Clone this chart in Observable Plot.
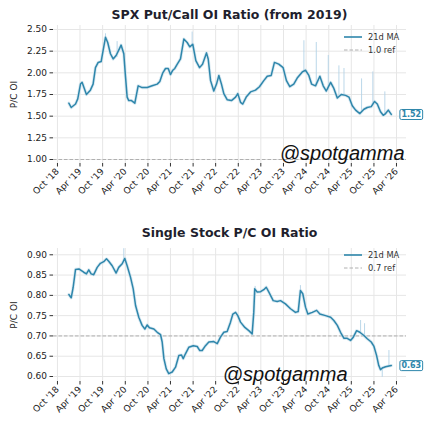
<!DOCTYPE html>
<html><head><meta charset="utf-8">
<script src="https://cdn.jsdelivr.net/npm/d3@7"></script>
<script src="https://cdn.jsdelivr.net/npm/@observablehq/plot@0.6"></script>
<style>
body{margin:0;background:#fff;font-family:"DejaVu Sans",sans-serif;}
.panel{position:relative;width:435px;height:215px;overflow:visible;}
.title{position:absolute;left:53px;width:353px;text-align:center;font-weight:bold;font-size:12.5px;color:#1f1f2e;line-height:14px;}
.lg{position:absolute;left:344px;height:12px;display:flex;align-items:center;font-size:8.3px;color:#333;}
.lg svg{margin-right:6px;}
</style></head>
<body>
<div id="root"></div>
<script>
// ---- Data ----
const tickDates = ["2018-10-01","2019-04-01","2019-10-01","2020-04-01","2020-10-01","2021-04-01","2021-10-01","2022-04-01","2022-10-01","2023-04-01","2023-10-01","2024-04-01","2024-10-01","2025-04-01","2025-10-01","2026-04-01"];
const tickLabels = ["Oct '18","Apr '19","Oct '19","Apr '20","Oct '20","Apr '21","Oct '21","Apr '22","Oct '22","Apr '23","Oct '23","Apr '24","Oct '24","Apr '25","Oct '25","Apr '26"];

const spxYTicks = [1.00,1.25,1.50,1.75,2.00,2.25,2.50];
const ssYTicks = [0.60,0.65,0.70,0.75,0.80,0.85,0.90];

const spxDates = ["2019-01-01","2019-01-20","2019-02-24","2019-03-14","2019-04-05","2019-04-18","2019-05-23","2019-06-24","2019-07-16","2019-08-04","2019-08-26","2019-09-19","2019-10-05","2019-10-24","2019-11-11","2019-12-03","2019-12-25","2020-01-18","2020-02-14","2020-02-27","2020-03-20","2020-04-03","2020-04-16","2020-04-29","2020-05-21","2020-06-17","2020-07-14","2020-08-15","2020-09-25","2020-11-04","2020-12-15","2021-01-05","2021-01-29","2021-02-20","2021-03-14","2021-04-01","2021-04-20","2021-05-06","2021-05-26","2021-06-21","2021-07-18","2021-08-14","2021-09-04","2021-09-28","2021-10-23","2021-11-22","2021-12-16","2022-01-17","2022-01-31","2022-02-19","2022-03-17","2022-04-08","2022-04-27","2022-05-18","2022-06-06","2022-07-03","2022-08-07","2022-09-09","2022-09-27","2022-10-19","2022-11-06","2022-12-04","2023-01-08","2023-02-17","2023-03-21","2023-04-25","2023-05-23","2023-06-24","2023-07-20","2023-08-24","2023-09-28","2023-10-25","2023-11-21","2023-12-23","2024-01-20","2024-03-01","2024-03-27","2024-04-23","2024-05-15","2024-06-16","2024-07-21","2024-08-17","2024-09-11","2024-10-16","2024-11-11","2024-12-09","2025-01-10","2025-02-14","2025-03-13","2025-04-09","2025-05-06","2025-06-09","2025-07-12","2025-08-08","2025-09-09","2025-10-06","2025-10-28","2025-11-23","2025-12-15","2026-01-03","2026-01-25","2026-02-18"];
const spxMA = [1.65,1.60,1.64,1.70,1.87,1.89,1.75,1.80,1.87,2.06,2.12,2.13,2.26,2.41,2.35,2.22,2.16,2.20,2.28,2.32,2.22,1.95,1.72,1.68,1.68,1.65,1.85,1.83,1.83,1.85,1.87,1.90,2.00,2.05,2.05,1.98,2.03,2.05,2.10,2.16,2.39,2.35,2.30,2.33,2.14,2.06,2.10,2.23,2.16,1.91,1.79,1.87,1.97,1.87,1.76,1.69,1.68,1.72,1.76,1.66,1.64,1.72,1.78,1.80,1.84,1.91,1.96,1.97,2.12,2.10,2.06,1.91,1.84,1.87,1.94,2.01,2.03,1.97,1.87,1.85,1.96,1.85,1.79,1.89,1.82,1.71,1.75,1.74,1.72,1.62,1.57,1.53,1.58,1.60,1.61,1.67,1.64,1.55,1.51,1.53,1.57,1.52];
// raw daily spikes: date, low, high
const spxSpikeDates = ["2019-10-24","2020-01-26","2021-09-23","2024-03-14","2024-06-22","2024-09-27","2024-12-22","2025-02-01","2025-06-23","2025-09-22","2025-12-28"];
const spxSpikeLo = [2.36,2.18,2.30,2.00,1.85,1.80,1.72,1.74,1.55,1.62,1.51];
const spxSpikeHi = [2.45,2.36,2.47,2.37,2.35,2.20,2.08,2.05,1.93,2.01,1.78];

const ssDates = ["2019-01-01","2019-01-20","2019-02-05","2019-02-24","2019-03-23","2019-05-01","2019-05-23","2019-06-11","2019-06-30","2019-07-21","2019-08-18","2019-09-13","2019-10-10","2019-11-01","2019-11-19","2019-12-17","2020-01-18","2020-02-08","2020-03-07","2020-03-28","2020-04-16","2020-05-13","2020-06-04","2020-06-23","2020-07-19","2020-08-15","2020-09-06","2020-09-25","2020-10-13","2020-11-18","2020-12-15","2021-01-11","2021-01-24","2021-02-07","2021-02-26","2021-03-18","2021-04-15","2021-05-12","2021-06-08","2021-06-29","2021-07-13","2021-07-31","2021-08-27","2021-10-02","2021-11-03","2021-11-24","2021-12-13","2022-01-09","2022-02-05","2022-03-17","2022-04-14","2022-05-10","2022-06-06","2022-07-03","2022-07-30","2022-08-18","2022-09-09","2022-09-27","2022-10-19","2022-11-23","2022-12-25","2023-01-21","2023-02-03","2023-02-11","2023-03-03","2023-03-30","2023-04-25","2023-05-15","2023-06-05","2023-07-10","2023-08-11","2023-09-07","2023-10-17","2023-11-27","2024-01-06","2024-01-28","2024-02-15","2024-03-05","2024-03-27","2024-04-15","2024-05-21","2024-06-25","2024-07-21","2024-09-05","2024-10-16","2024-11-11","2024-12-09","2025-01-04","2025-02-01","2025-02-27","2025-03-26","2025-04-17","2025-05-14","2025-06-09","2025-07-12","2025-08-08","2025-09-09","2025-09-30","2025-10-22","2025-11-09","2025-11-23","2025-12-07","2026-01-03","2026-02-18"];
const ssMA = [0.802,0.794,0.820,0.864,0.865,0.857,0.853,0.863,0.853,0.851,0.869,0.879,0.883,0.890,0.884,0.873,0.855,0.869,0.878,0.891,0.873,0.845,0.816,0.775,0.746,0.726,0.717,0.727,0.720,0.717,0.709,0.703,0.685,0.644,0.619,0.607,0.611,0.623,0.652,0.653,0.644,0.656,0.672,0.676,0.674,0.664,0.664,0.676,0.685,0.686,0.681,0.697,0.709,0.711,0.734,0.754,0.758,0.750,0.734,0.721,0.713,0.705,0.758,0.816,0.808,0.809,0.814,0.820,0.808,0.787,0.785,0.787,0.779,0.767,0.758,0.760,0.812,0.804,0.771,0.754,0.758,0.763,0.754,0.750,0.746,0.738,0.726,0.709,0.694,0.694,0.689,0.697,0.713,0.709,0.701,0.693,0.685,0.675,0.652,0.627,0.617,0.621,0.624,0.627];
const ssSpikeDates = ["2020-03-20","2023-02-14","2024-02-15","2025-06-15","2025-07-17","2026-01-30","2025-12-07"];
const ssSpikeLo = [0.880,0.800,0.800,0.705,0.698,0.624,0.598];
const ssSpikeHi = [0.915,0.822,0.824,0.738,0.730,0.664,0.623];

const spxTitle = "SPX Put/Call OI Ratio (from 2019)";
const ssTitle = "Single Stock P/C OI Ratio";
const spxRef = 1.0, ssRef = 0.7;
const spxLast = 1.52, ssLast = 0.63;

// ---- Drawing ----
const BLUE = "#2e86ab";
const labelOf = new Map(tickDates.map((d,i)=>[+new Date(d), tickLabels[i]]));
const xTicks = tickDates.map(d=>new Date(d));

function panel({title, dates, ma, spD, spLo, spHi, ref, refLabel, last, yDomain, yTicks, marginTop, marginBottom, titleTop, lgTop, wmDx, wmDy}) {
  const data = dates.map((d,i)=>({date:new Date(d), v:ma[i]}));
  const spikes = spD.map((d,i)=>({date:new Date(d), lo:spLo[i], hi:spHi[i]}));
  const lastPt = [{date:data[data.length-1].date, v:data[data.length-1].v, t:last.toFixed(2)}];
  const div = document.createElement("div");
  div.className = "panel";
  const plot = Plot.plot({
    width:435, height:215, marginLeft:53, marginRight:29, marginTop, marginBottom,
    style:{fontFamily:"DejaVu Sans", fontSize:"9px", color:"#222", background:"transparent", overflow:"visible"},
    x:{type:"utc", domain:[new Date("2018-08-30"), new Date("2026-06-21")]},
    y:{domain:yDomain},
    marks:[
      Plot.gridX(xTicks, {stroke:"#e6e6e6", strokeOpacity:1}),
      Plot.gridY(yTicks, {stroke:"#e6e6e6", strokeOpacity:1}),
      Plot.axisX(xTicks, {tickFormat:d=>labelOf.get(+d), tickRotate:-45, tickSize:3.5, tickPadding:3, label:null, stroke:"#333", fontSize:9}),
      Plot.axisY(yTicks, {tickFormat:d3.format(".2f"), tickSize:3.5, tickPadding:3, label:"P/C OI", labelAnchor:"center", labelArrow:"none", labelOffset:43, stroke:"#333", fontSize:9}),
      Plot.ruleY([ref], {stroke:"#b0b0b0", strokeWidth:1, strokeDasharray:"3.5,2"}),
      Plot.ruleX(spikes, {x:"date", y1:"lo", y2:"hi", stroke:"#b3d3e6", strokeWidth:0.9}),
      Plot.line(data, {x:"date", y:"v", stroke:"#c3dcea", strokeWidth:3.2, strokeOpacity:0.6}),
      Plot.line(data, {x:"date", y:"v", stroke:BLUE, strokeWidth:1.5}),
      Plot.text(lastPt, {x:"date", y:"v", text:"t", dx:20, fill:BLUE, fontWeight:"bold", fontSize:8, className:"lastval"}),
      Plot.text(["@spotgamma"], {frameAnchor:"bottom-right", dx:wmDx, dy:wmDy, fontSize:20, fontStyle:"italic", fontFamily:"Liberation Sans", fill:"#111", lineAnchor:"bottom"})
    ]
  });
  div.appendChild(plot);
  const t = document.createElement("div");
  t.className = "title"; t.style.top = titleTop+"px"; t.textContent = title;
  div.appendChild(t);
  const rows = [
    {label:"21d MA", stroke:BLUE, w:1.6, dash:null},
    {label:refLabel, stroke:"#b0b0b0", w:1, dash:"3.5,2"}
  ];
  rows.forEach((r,i)=>{
    const lg = document.createElement("div");
    lg.className = "lg"; lg.style.top = (lgTop + i*13 - 6)+"px";
    lg.innerHTML = `<svg width="18" height="12"><line x1="0" x2="18" y1="6" y2="6" stroke="${r.stroke}" stroke-width="${r.w}" ${r.dash?`stroke-dasharray="${r.dash}"`:""}/></svg><span>${r.label}</span>`;
    div.appendChild(lg);
  });
  return div;
}

const root = document.getElementById("root");
root.appendChild(panel({title:spxTitle, dates:spxDates, ma:spxMA, spD:spxSpikeDates, spLo:spxSpikeLo, spHi:spxSpikeHi, ref:spxRef, refLabel:"1.0 ref", last:spxLast, yDomain:[0.954,2.546], yTicks:spxYTicks, marginTop:25, marginBottom:52, titleTop:8, lgTop:36.5, wmDx:-2, wmDy:-4}));
root.appendChild(panel({title:ssTitle, dates:ssDates, ma:ssMA, spD:ssSpikeDates, spLo:ssSpikeLo, spHi:ssSpikeHi, ref:ssRef, refLabel:"0.7 ref", last:ssLast, yDomain:[0.5877,0.9155], yTicks:ssYTicks, marginTop:33, marginBottom:49, titleTop:10.5, lgTop:40, wmDx:-59, wmDy:-1}));

// boxes around last-value labels
const NS = "http://www.w3.org/2000/svg";
document.querySelectorAll("g.lastval text").forEach(tx=>{
  const b = tx.getBBox();
  const r = document.createElementNS(NS,"rect");
  r.setAttribute("x", b.x-1.5); r.setAttribute("y", b.y-0.5);
  r.setAttribute("width", b.width+3); r.setAttribute("height", b.height+1);
  r.setAttribute("rx", 1.5); r.setAttribute("fill","#fff"); r.setAttribute("stroke", BLUE); r.setAttribute("stroke-width", 1);
  if (tx.getAttribute("transform")) r.setAttribute("transform", tx.getAttribute("transform"));
  tx.parentNode.insertBefore(r, tx);
});
</script>
</body></html>
